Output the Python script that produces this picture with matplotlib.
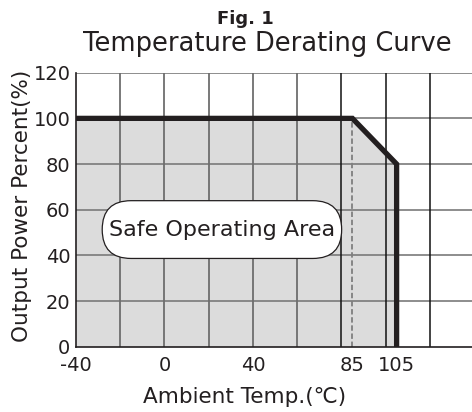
import matplotlib
matplotlib.use('Agg')
import matplotlib.pyplot as plt
from matplotlib.patches import BoxStyle

# derating curve data
temp = [-40, 85, 105, 105]
load = [100, 100, 80, 0]
knee_temp = 85
x_ticks = [-40, 0, 40, 85, 105]
y_ticks = [0, 20, 40, 60, 80, 100, 120]
grid_gray = [-20, 0, 20, 40, 60]
grid_dark = [80, 100, 120]


def stadium(x0, y0, width, height, mutation_size):
    # pill shaped box with little side padding
    px, py = 0.3 * mutation_size, 0.85 * mutation_size
    w, h = width + 2 * px, height + 2 * py
    rs = (h / 2) / mutation_size
    return BoxStyle.Round(pad=0, rounding_size=rs)(x0 - px, y0 - py, w, h, mutation_size)


def main():
    plt.rcParams['font.family'] = 'DejaVu Sans'
    plt.rcParams['axes.unicode_minus'] = False
    fig = plt.figure(figsize=(4.72, 4.12), dpi=100)
    ax = fig.add_axes([76 / 472, (412 - 346.7) / 412, 398 / 472, 274 / 412])

    ink = '#231f20'
    ax.fill_between(temp, load, 0, color='#dcdcdc', lw=0, zorder=1)

    for y in y_ticks[1:]:
        ax.axhline(y, color='#7a7a7a', lw=1.2, zorder=2)
    for x in grid_gray:
        ax.axvline(x, color='#6e6e6e', lw=1.3, zorder=2)
    for x in grid_dark:
        ax.axvline(x, color='#111111', lw=1.1, zorder=2)

    ax.plot([knee_temp, knee_temp], [0, 100], color='#808080', lw=1.3,
            ls=(0, (3, 1.5)), zorder=3)
    ax.plot(temp, load, color=ink, lw=3.8, solid_joinstyle='miter', zorder=4)

    ax.text(26, 51.3, 'Safe Operating Area', fontsize=16, ha='center', va='center',
            color=ink, zorder=5,
            bbox=dict(boxstyle=stadium, fc='white', ec=ink, lw=0.9))

    ax.set_xlim(-40, 140)
    ax.set_ylim(0, 120)
    ax.set_xticks(x_ticks)
    ax.set_yticks(y_ticks)
    ax.tick_params(length=0, labelsize=14, colors=ink)
    ax.tick_params(axis='x', pad=7)
    ax.tick_params(axis='y', pad=4)
    ax.spines['right'].set_visible(False)
    ax.spines['top'].set_visible(False)
    for s in ('left', 'bottom'):
        ax.spines[s].set_color(ink)
        ax.spines[s].set_linewidth(1.2)
        ax.spines[s].set_zorder(6)

    fig.text(245 / 472, 1 - 19.5 / 412, 'Fig. 1', fontsize=13, fontweight='bold',
             ha='center', va='center', color=ink)
    fig.text(267 / 472, 1 - 44 / 412, 'Temperature Derating Curve', fontsize=18.5,
             ha='center', va='center', color=ink)
    fig.text(22 / 472, 1 - 206 / 412, 'Output Power Percent(%)', fontsize=15.5,
             rotation=90, ha='center', va='center', color=ink)
    fig.text(245 / 472, 1 - 397 / 412, 'Ambient Temp.(℃)', fontsize=15.5,
             ha='center', va='center', color=ink)

    fig.savefig('out.png', dpi=100)


if __name__ == '__main__':
    main()
